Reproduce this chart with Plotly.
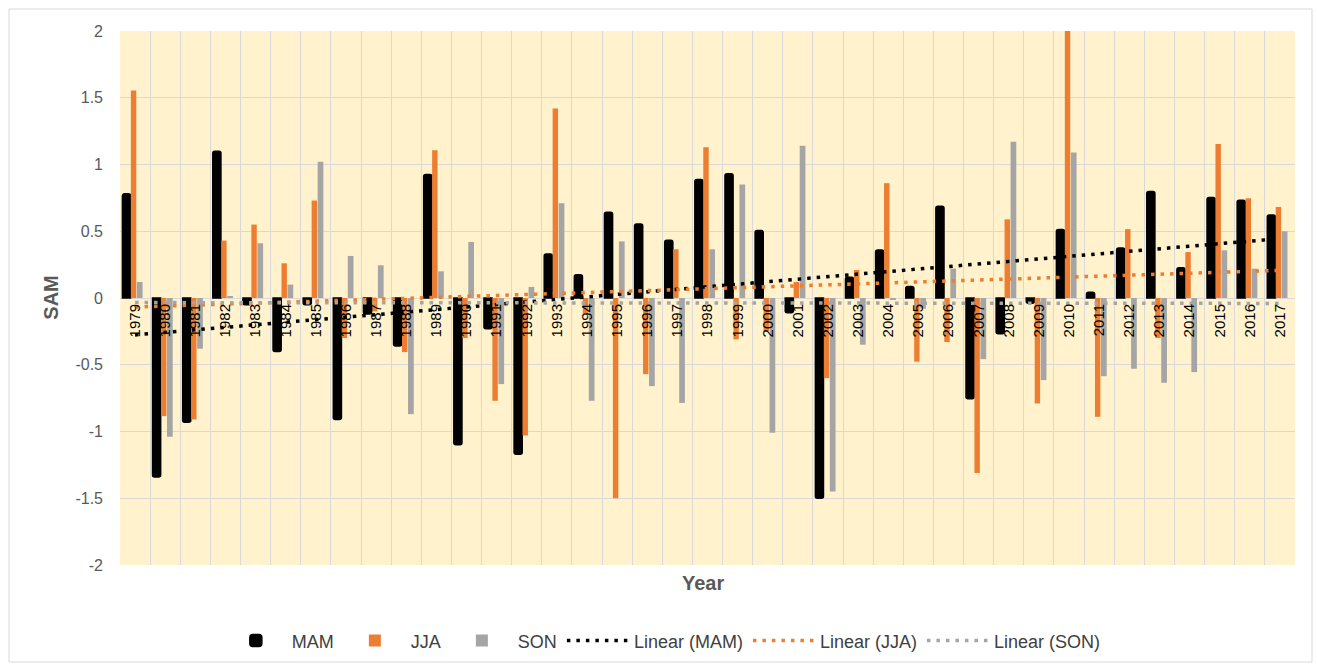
import numpy as np
import plotly.graph_objects as go

years = [str(y) for y in range(1979, 2018)]

mam = [0.78, -1.34, -0.93, 1.10, -0.05, -0.40, -0.05, -0.91, -0.12, -0.36,
       0.925, -1.10, -0.23, -1.17, 0.33, 0.175, 0.643, 0.555, 0.432, 0.888,
       0.93, 0.505, -0.11, -1.50, 0.156, 0.36, 0.087, 0.688, -0.755, -0.268,
       -0.04, 0.513, 0.044, 0.375, 0.797, 0.227, 0.753, 0.732, 0.622]
jja = [1.555, -0.885, -0.91, 0.43, 0.55, 0.26, 0.73, -0.30, -0.10, -0.405,
       1.107, -0.30, -0.77, -1.03, 1.42, -0.12, -1.50, -0.57, 0.365, 1.13,
       -0.31, -0.25, 0.12, -0.60, 0.21, 0.86, -0.477, -0.33, -1.31, 0.589,
       -0.79, 2.10, -0.89, 0.516, -0.30, 0.344, 1.154, 0.747, 0.682]
son = [0.12, -1.04, -0.38, 0.01, 0.41, 0.10, 1.02, 0.315, 0.245, -0.87,
       0.20, 0.42, -0.645, 0.083, 0.71, -0.77, 0.424, -0.66, -0.786, 0.365,
       0.85, -1.01, 1.14, -1.45, -0.35, -0.01, -0.08, 0.22, -0.458, 1.17,
       -0.615, 1.09, -0.586, -0.53, -0.635, -0.555, 0.357, 0.22, 0.50]

series_names = ["MAM", "JJA", "SON"]
colors = ["#000000", "#ED7D31", "#A5A5A5"]

idx = np.arange(len(years))


def trend(vals):
    k, b = np.polyfit(idx, np.array(vals), 1)
    return list(k * idx + b)


fig = go.Figure()

bar_geom = {"MAM": (-0.42, 0.27), "JJA": (-0.14, 0.18), "SON": (0.06, 0.19)}
for name, vals, col in zip(series_names, [mam, jja, son], colors):
    off, w = bar_geom[name]
    fig.add_trace(go.Bar(
        x=years, y=vals, name=name, offset=off, width=w,
        marker=dict(color=col,
                    line=dict(color=col, width=1.5 if name == "MAM" else 0),
                    cornerradius=2 if name == "MAM" else 0),
    ))

for name, vals, col in zip(series_names, [mam, jja, son], colors):
    fig.add_trace(go.Scatter(
        x=years, y=trend(vals), mode="lines", name=f"Linear ({name})",
        line=dict(color=col, width=3.5, dash="3.5px,6px"),
    ))

fig.update_layout(
    width=1317, height=665,
    margin=dict(l=120, r=22, t=31, b=100, autoexpand=False),
    paper_bgcolor="white",
    plot_bgcolor="#FFF2CC",
    barmode="overlay",
    font=dict(family="Liberation Sans", color="#595959"),
    showlegend=True,
    legend=dict(orientation="h", x=0.462, xanchor="center", y=-0.142,
                yanchor="middle", font=dict(size=18, color="#404040"),
                itemwidth=62, tracegroupgap=0, bgcolor="rgba(0,0,0,0)"),
    xaxis=dict(type="category", anchor="free", position=0.5,
               tickangle=-90, tickfont=dict(size=15, color="#000000"),
               showgrid=True, gridcolor="#D9D9D9", gridwidth=1,
               tickson="boundaries", ticks="", showline=False,
               zeroline=False, range=[-0.5, len(years) - 0.5],
               ticklabelstandoff=2, automargin=False),
    yaxis=dict(range=[-2, 2], tickvals=[2, 1.5, 1, 0.5, 0, -0.5, -1, -1.5, -2],
               ticktext=["2", "1.5", "1", "0.5", "0", "-0.5", "-1", "-1.5", "-2"],
               showgrid=True, gridcolor="#D9D9D9", gridwidth=1,
               zeroline=True, zerolinecolor="#D9D9D9", zerolinewidth=1,
               tickfont=dict(size=16, color="#595959"), ticks="",
               ticklabelstandoff=16, showline=False, automargin=False),
    annotations=[
        dict(text="<b>SAM</b>", x=-0.059, y=0.5, xref="paper", yref="paper",
             textangle=-90, showarrow=False, font=dict(size=20, color="#595959"),
             xanchor="center", yanchor="middle"),
        dict(text="<b>Year</b>", x=0.496, y=-0.034, xref="paper", yref="paper",
             showarrow=False, font=dict(size=20, color="#595959"),
             xanchor="center", yanchor="middle"),
    ],
    shapes=[
        dict(type="rect", xref="paper", yref="paper",
             x0=(9 - 120) / 1175, x1=(1312 - 120) / 1175,
             y0=(565 - 662) / 534, y1=(565 - 9) / 534,
             line=dict(color="#D9D9D9", width=1), fillcolor="rgba(0,0,0,0)",
             layer="below"),
    ],
)

fig.write_html("out.html", config={"displayModeBar": False},
               post_script="document.body.style.margin='0';document.body.style.overflow='hidden';")
